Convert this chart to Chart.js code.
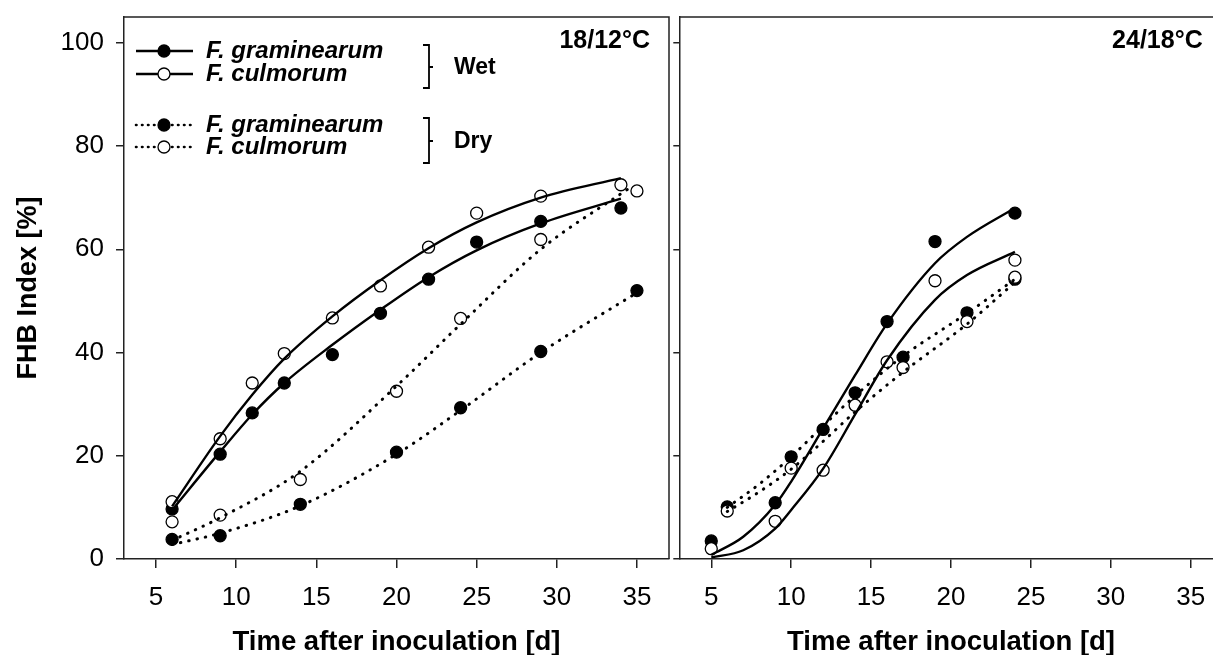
<!DOCTYPE html>
<html>
<head>
<meta charset="utf-8">
<script src="https://cdn.jsdelivr.net/npm/chart.js@4.4.1/dist/chart.umd.min.js"></script>
<style>
  html, body { margin: 0; padding: 0; background: #fff; overflow: hidden; }
  #wrap { position: relative; width: 1213px; height: 655px; overflow: hidden; }
  #left { position: absolute; left: 0; top: 0; }
  #right { position: absolute; left: 672px; top: 0; }
</style>
</head>
<body>
<div id="wrap">
  <canvas id="left" width="680" height="655"></canvas>
  <canvas id="right" width="558" height="655"></canvas>
</div>
<script>
// names used in the legend / panel headers
var speciesNames = ["F. graminearum", "F. culmorum"];
var moistureNames = ["Wet", "Dry"];
var panelNames = ["18/12\u00b0C", "24/18\u00b0C"];
var xTitle = "Time after inoculation [d]";
var yTitle = "FHB Index [%]";

//--------------------------------------------------------------------
// * 18/12°C - observed values
//--------------------------------------------------------------------
var coolWetDays = [6, 9, 11, 13, 16, 19, 22, 25, 29, 34];
var coolWetGram = [9.7, 20.3, 28.3, 34.1, 39.6, 47.6, 54.2, 61.4, 65.4, 68.0];
var coolWetCulm = [11.1, 23.3, 34.1, 39.8, 46.7, 52.9, 60.4, 67.0, 70.3, 72.5];
var coolDryDays = [6, 9, 14, 20, 24, 29, 35];
var coolDryGram = [3.8, 4.5, 10.6, 20.7, 29.3, 40.2, 52.0];
var coolDryCulm = [7.2, 8.5, 15.4, 32.5, 46.6, 61.9, 71.3];

// fitted curves
var coolWetGramFitX = [6, 9, 11, 13, 16, 19, 22, 25, 29, 34];
var coolWetGramFitY = [9.5, 20.8, 28.0, 34.1, 41.5, 48.3, 54.6, 59.8, 65.0, 69.8];
var coolWetCulmFitX = [6, 9, 11, 13, 16, 19, 22, 25, 29, 34];
var coolWetCulmFitY = [10.2, 23.8, 31.8, 38.8, 47.0, 54.0, 60.2, 65.2, 70.0, 73.8];
var coolDryGramFitX = [6, 9, 14, 20, 24, 29, 35];
var coolDryGramFitY = [2.8, 5.0, 10.3, 20.3, 28.8, 40.0, 51.6];
var coolDryCulmFitX = [6, 9, 14, 20, 24, 29, 34.5];
var coolDryCulmFitY = [3.6, 8.0, 17.0, 33.5, 45.5, 60.0, 71.8];

//--------------------------------------------------------------------
// * 24/18°C - observed values
//--------------------------------------------------------------------
var warmWetDays = [5, 9, 12, 16, 19, 24];
var warmWetGram = [3.5, 10.9, 25.1, 46.0, 61.5, 67.0];
var warmWetCulm = [2.0, 7.3, 17.2, 38.2, 53.9, 57.9];
var warmDryDays = [6, 10, 14, 17, 21, 24];
var warmDryGram = [10.1, 19.8, 32.2, 39.1, 47.7, 54.2];
var warmDryCulm = [9.3, 17.6, 29.8, 37.1, 46.0, 54.6];

var warmWetGramFitX = [5, 7, 9, 10, 12, 14, 16, 19, 21, 24];
var warmWetGramFitY = [0.8, 4.3, 10.5, 15.0, 25.3, 35.6, 45.6, 57.3, 62.4, 68.0];
var warmWetCulmFitX = [5, 7, 9, 10, 12, 14, 16, 19, 21, 24];
var warmWetCulmFitY = [0.3, 1.7, 5.9, 9.5, 17.5, 28.0, 38.5, 50.2, 55.0, 59.5];
var warmDryGramFitX = [6, 8, 10, 12, 14, 17, 21, 24];
var warmDryGramFitY = [10.0, 14.5, 19.8, 25.8, 31.6, 39.3, 47.6, 54.2];
var warmDryCulmFitX = [6, 8, 10, 12, 14, 17, 21, 24];
var warmDryCulmFitY = [9.2, 13.0, 17.4, 22.8, 28.5, 36.2, 45.5, 53.6];

// axis ticks
var xMin = 3, xMax = 37, xStep = 5;
var yMin = 0, yMax = 105, yStep = 20;

Chart.defaults.font.family = "'Liberation Sans', Arial, sans-serif";
Chart.defaults.color = '#000';

function pts(xs, ys) {
    return xs.map(function(x, i) { return {x: x, y: ys[i]}; });
}

function markerSet(xs, ys, filled) {
    return {
        data: pts(xs, ys),
        showLine: false,
        pointRadius: 6,
        pointHoverRadius: 6,
        pointBorderWidth: 1.3,
        pointBorderColor: '#000',
        pointBackgroundColor: filled ? '#000' : '#fff',
        order: filled ? 3 : 2
    };
}

function fitSet(xs, ys, dotted) {
    return {
        data: pts(xs, ys),
        showLine: true,
        pointRadius: 0,
        borderColor: '#000',
        borderWidth: dotted ? 3 : 2.4,
        borderDash: dotted ? [0.5, 8] : [],
        borderCapStyle: dotted ? 'round' : 'butt',
        cubicInterpolationMode: 'monotone',
        fill: false,
        order: 1
    };
}

function makeScales(isLeft) {
    return {
        x: {
            type: 'linear', min: xMin, max: xMax,
            ticks: { stepSize: xStep, includeBounds: false, padding: 14, font: { size: 26 } },
            grid: { drawOnChartArea: false, drawTicks: true, tickLength: 9, color: '#222', lineWidth: 1.5 },
            border: { display: true, color: '#222', width: 1.5 },
            title: { display: true, text: xTitle, padding: 0,
                     font: { size: 27.5, weight: 'bold', lineHeight: 0.95 } },
            afterFit: function(s) { s.height = 96; s.paddingLeft = 0; s.paddingRight = 0; }
        },
        y: {
            type: 'linear', min: yMin, max: yMax,
            ticks: { display: isLeft, stepSize: yStep, includeBounds: false, padding: 12, font: { size: 26 } },
            grid: { drawOnChartArea: false, drawTicks: true, tickLength: isLeft ? 8 : 6, color: '#222', lineWidth: 1.5 },
            border: { display: true, color: '#222', width: 1.5 },
            title: { display: isLeft, text: yTitle, padding: { top: 12, bottom: 0 },
                     font: { size: 27, weight: 'bold' } },
            afterFit: function(s) { s.width = isLeft ? 124 : 7; s.paddingTop = 0; s.paddingBottom = 0; }
        }
    };
}

// box round the plot area (top + right edges)
var frame = {
    id: 'frame',
    afterDraw: function(chart) {
        var a = chart.chartArea, c = chart.ctx;
        c.save();
        c.strokeStyle = '#222';
        c.lineWidth = 1.5;
        c.beginPath();
        c.moveTo(a.left, a.top);
        c.lineTo(a.right, a.top);
        c.lineTo(a.right, a.bottom);
        c.stroke();
        c.restore();
    }
};

// temperature label, top right of each panel
var panelLabel = {
    id: 'panelLabel',
    afterDraw: function(chart, args, opts) {
        var a = chart.chartArea, c = chart.ctx;
        c.save();
        c.font = "bold 25px 'Liberation Sans', Arial, sans-serif";
        c.fillStyle = '#000';
        c.textAlign = 'right';
        c.textBaseline = 'middle';
        c.fillText(opts.text, a.right - opts.inset, a.top + 24);
        c.restore();
    }
};

// hand made legend with the Wet / Dry brackets
var sideLegend = {
    id: 'sideLegend',
    afterDraw: function(chart) {
        var c = chart.ctx;
        var rows = [
            { y: 51, dotted: false, filled: true },
            { y: 74, dotted: false, filled: false },
            { y: 125, dotted: true, filled: true },
            { y: 147, dotted: true, filled: false }
        ];
        c.save();
        c.strokeStyle = '#000';
        c.fillStyle = '#000';
        rows.forEach(function(r, i) {
            c.beginPath();
            if (r.dotted) {
                c.setLineDash([0.5, 5.5]);
                c.lineCap = 'round';
                c.lineWidth = 2.6;
            } else {
                c.setLineDash([]);
                c.lineCap = 'butt';
                c.lineWidth = 2.4;
            }
            c.moveTo(136, r.y);
            c.lineTo(193, r.y);
            c.stroke();
            c.setLineDash([]);
            c.beginPath();
            c.arc(164, r.y, 6, 0, Math.PI * 2);
            c.fillStyle = r.filled ? '#000' : '#fff';
            c.fill();
            c.lineWidth = 1.3;
            c.stroke();
            c.fillStyle = '#000';
            c.font = "italic bold 24px 'Liberation Sans', Arial, sans-serif";
            c.textAlign = 'left';
            c.textBaseline = 'middle';
            c.fillText(speciesNames[i % 2], 206, r.y);
        });

        // brackets
        c.lineWidth = 1.8;
        c.lineCap = 'butt';
        [[45, 88, 67], [118, 163, 141]].forEach(function(b, i) {
            c.beginPath();
            c.moveTo(423, b[0]);
            c.lineTo(429, b[0]);
            c.lineTo(429, b[1]);
            c.lineTo(423, b[1]);
            c.moveTo(429, b[2]);
            c.lineTo(433, b[2]);
            c.stroke();
            c.font = "bold 23px 'Liberation Sans', Arial, sans-serif";
            c.fillText(moistureNames[i], 454, b[2] + 1);
        });
        c.restore();
    }
};

// the right panel runs past the window edge, like the original crop
function makeChart(id, isLeft, sets, label, inset) {
    var ctx = document.getElementById(id).getContext('2d');
    return new Chart(ctx, {
        type: 'scatter',
        data: { datasets: sets },
        options: {
            responsive: false,
            animation: false,
            events: [],
            layout: { padding: { top: 17, right: isLeft ? 11 : 7, left: 0, bottom: 0 } },
            scales: makeScales(isLeft),
            plugins: {
                legend: { display: false },
                tooltip: { enabled: false },
                panelLabel: { text: label, inset: inset }
            }
        },
        plugins: isLeft ? [frame, panelLabel, sideLegend] : [frame, panelLabel]
    });
}

makeChart('left', true, [
    fitSet(coolWetGramFitX, coolWetGramFitY, false),
    fitSet(coolWetCulmFitX, coolWetCulmFitY, false),
    fitSet(coolDryGramFitX, coolDryGramFitY, true),
    fitSet(coolDryCulmFitX, coolDryCulmFitY, true),
    markerSet(coolWetDays, coolWetGram, true),
    markerSet(coolDryDays, coolDryGram, true),
    markerSet(coolWetDays, coolWetCulm, false),
    markerSet(coolDryDays, coolDryCulm, false)
], panelNames[0], 19);

makeChart('right', false, [
    fitSet(warmWetGramFitX, warmWetGramFitY, false),
    fitSet(warmWetCulmFitX, warmWetCulmFitY, false),
    fitSet(warmDryGramFitX, warmDryGramFitY, true),
    fitSet(warmDryCulmFitX, warmDryCulmFitY, true),
    markerSet(warmWetDays, warmWetGram, true),
    markerSet(warmDryDays, warmDryGram, true),
    markerSet(warmWetDays, warmWetCulm, false),
    markerSet(warmDryDays, warmDryCulm, false)
], panelNames[1], 20);
</script>
</body>
</html>
